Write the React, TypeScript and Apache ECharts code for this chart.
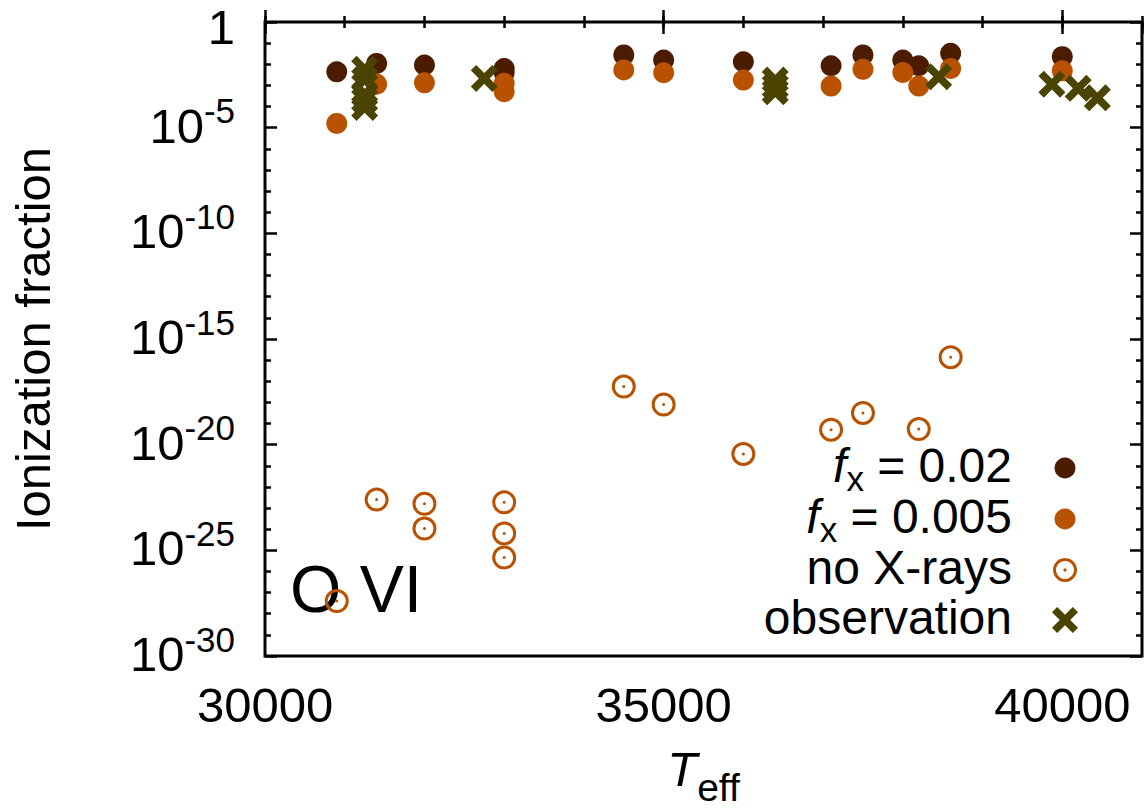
import React, { useEffect, useRef } from 'react';
import * as echarts from 'echarts';

const FONT = '"Liberation Sans", Arial, Helvetica, sans-serif';
const DARK = '#4b1c00';
const ORANGE = '#b85200';
const OLIVE = '#4a4400';

// Teff (K) and log10(ionization fraction)
const fx002Teff = [30900, 31400, 32000, 33000, 33000, 34500, 35000, 36000, 37100, 37500, 38000, 38200, 38600, 40000];
const fx002LogFrac = [-2.36, -1.96, -2.04, -2.2, -2.4, -1.56, -1.8, -1.88, -2.07, -1.56, -1.8, -2.07, -1.48, -1.64];

const fx0005Teff = [30900, 31400, 32000, 33000, 33000, 34500, 35000, 36000, 37100, 37500, 38000, 38200, 38600, 40000];
const fx0005LogFrac = [-4.8, -2.94, -2.88, -2.9, -3.3, -2.27, -2.4, -2.75, -3.03, -2.24, -2.39, -3.03, -2.2, -2.31];

const noXTeff = [30900, 31400, 32000, 32000, 33000, 33000, 33000, 34500, 35000, 36000, 37100, 37500, 38200, 38600];
const noXLogFrac = [-27.4, -22.6, -22.8, -23.97, -22.73, -24.2, -25.34, -17.25, -18.1, -20.44, -19.29, -18.5, -19.26, -15.86];

const obsTeff = [31250, 31250, 31250, 31250, 31250, 32750, 36400, 36400, 36400, 38450, 39870, 40200, 40440];
const obsLogFrac = [-2.24, -2.72, -3.41, -3.7, -4.04, -2.67, -2.75, -3.05, -3.3, -2.59, -2.94, -3.14, -3.59];

const xMin = 30000;
const xMax = 41000;
const xMajor = 5000;
const xMinor = 1000;
const yMinExp = -30;
const yMaxExp = 0;
const yMajor = 5;

const legendLabels = ['{i|f}{sub|x}{n| = 0.02}', '{i|f}{sub|x}{n| = 0.005}', '{n|no X-rays}', '{n|observation}'];

const RING =
  'path://M12,0A12,12 0 0 1 12,24A12,12 0 0 1 12,0Z M12,3A9,9 0 0 0 12,21A9,9 0 0 0 12,3Z M12,10.5A1.5,1.5 0 0 1 12,13.5A1.5,1.5 0 0 1 12,10.5Z';
const CROSS_PTS = [
  [0, 2], [2, 0], [5, 3], [8, 0], [10, 2], [7, 5], [10, 8], [8, 10], [5, 7], [2, 10], [0, 8], [3, 5],
];
const CROSS = 'path://M' + CROSS_PTS.map((p) => p.join(',')).join('L') + 'Z';

const zip = (xs: number[], ys: number[]) => xs.map((x, i) => [x, ys[i]]);

const legendRich = {
  n: { fontSize: 48, lineHeight: 48, fontFamily: FONT, verticalAlign: 'top', fill: '#000', color: '#000' },
  i: { fontSize: 48, lineHeight: 48, fontStyle: 'italic', fontFamily: FONT, verticalAlign: 'top', fill: '#000', color: '#000' },
  sub: { fontSize: 35, lineHeight: 30, padding: [20, 0, 0, 0], fontFamily: FONT, verticalAlign: 'top', fill: '#000', color: '#000' },
};

export default function App() {
  const ref = useRef<HTMLDivElement>(null);
  useEffect(() => {
    document.body.style.margin = '0';
    const chart = echarts.init(ref.current!, undefined, { renderer: 'svg' });

    const baseX = {
      type: 'value',
      min: xMin,
      max: xMax,
      splitLine: { show: false },
      axisLine: { show: false },
    };
    const baseY = {
      type: 'value',
      min: yMinExp,
      max: yMaxExp,
      interval: yMajor,
      splitLine: { show: false },
      axisLine: { show: false },
      axisTick: { inside: true, length: 12, lineStyle: { color: '#000', width: 2.5 } },
      minorTick: { show: true, splitNumber: 5, length: 6, lineStyle: { color: '#000', width: 2.5 } },
    };

    const rowY = [468, 519, 570, 620];
    const mx = 1065;
    const legendGraphics: any[] = [];
    legendLabels.forEach((lab, k) => {
      legendGraphics.push({
        type: 'text',
        x: 1012,
        y: rowY[k] - 27,
        silent: true,
        style: {
          text: lab,
          align: 'right',
          verticalAlign: 'top',
          rich: legendRich,
          fill: '#000',
        },
      });
    });
    legendGraphics.push({ type: 'circle', shape: { cx: mx, cy: rowY[0], r: 10.5 }, style: { fill: DARK } });
    legendGraphics.push({ type: 'circle', shape: { cx: mx, cy: rowY[1], r: 10.5 }, style: { fill: ORANGE } });
    legendGraphics.push({ type: 'ring', shape: { cx: mx, cy: rowY[2], r: 12, r0: 9 }, style: { fill: ORANGE } });
    legendGraphics.push({ type: 'circle', shape: { cx: mx, cy: rowY[2], r: 1.6 }, style: { fill: ORANGE } });
    legendGraphics.push({
      type: 'polygon',
      shape: { points: CROSS_PTS.map(([a, b]) => [mx - 13 + a * 2.6, rowY[3] - 13 + b * 2.6]) },
      style: { fill: OLIVE },
    });

    chart.setOption({
      animation: false,
      backgroundColor: '#fff',
      textStyle: { fontFamily: FONT },
      grid: {
        left: 265,
        right: 3,
        top: 22,
        bottom: 155,
        show: true,
        borderColor: '#000',
        borderWidth: 3,
        backgroundColor: 'transparent',
        outerBoundsMode: 'none',
        containLabel: false,
      },
      xAxis: [
        {
          ...baseX,
          position: 'bottom',
          interval: xMajor,
          axisTick: { inside: true, length: 12, lineStyle: { color: '#000', width: 2.5 } },
          axisLabel: {
            show: true,
            margin: 24,
            fontSize: 49,
            color: '#000',
            fontFamily: FONT,
            showMaxLabel: false,
            formatter: (v: number) => String(v),
          },
          name: '{i|T}{sub|eff}',
          nameLocation: 'middle',
          nameGap: 88,
          nameTextStyle: {
            rich: {
              i: { fontSize: 49, lineHeight: 49, fontStyle: 'italic', fontFamily: FONT, color: '#000', verticalAlign: 'top' },
              sub: { fontSize: 39, lineHeight: 34, padding: [24, 0, 0, 0], fontFamily: FONT, color: '#000', verticalAlign: 'top' },
            },
          },
        },
        {
          ...baseX,
          position: 'bottom',
          interval: xMinor,
          axisTick: { inside: true, length: 6, lineStyle: { color: '#000', width: 2.5 } },
          axisLabel: { show: false },
        },
        {
          ...baseX,
          position: 'top',
          interval: xMajor,
          axisTick: { inside: true, length: 12, lineStyle: { color: '#000', width: 2.5 } },
          axisLabel: { show: false },
        },
        {
          ...baseX,
          position: 'top',
          interval: xMinor,
          axisTick: { inside: true, length: 6, lineStyle: { color: '#000', width: 2.5 } },
          axisLabel: { show: false },
        },
      ],
      yAxis: [
        {
          ...baseY,
          position: 'left',
          axisLabel: {
            show: true,
            margin: 30,
            color: '#000',
            formatter: (v: number) => (v === 0 ? '{one|1}' : `{b|10}{s|${v}}`),
            rich: {
              one: { fontSize: 49, lineHeight: 49, padding: [5, 0, 0, 0], fontFamily: FONT, color: '#000', verticalAlign: 'top' },
              b: { fontSize: 49, padding: [8, 0, 12, 0], fontFamily: FONT, color: '#000', verticalAlign: 'top' },
              s: { fontSize: 35, fontFamily: FONT, color: '#000', verticalAlign: 'top' },
            },
          },
          name: 'Ionization fraction',
          nameLocation: 'middle',
          nameGap: 208,
          nameTextStyle: { fontSize: 49, fontFamily: FONT, color: '#000' },
        },
        {
          ...baseY,
          position: 'right',
          axisLabel: { show: false },
        },
      ],
      series: [
        {
          type: 'scatter',
          name: 'fx = 0.02',
          data: zip(fx002Teff, fx002LogFrac),
          symbol: 'circle',
          symbolSize: 21,
          itemStyle: { color: DARK, opacity: 1 },
          silent: true,
          z: 2,
        },
        {
          type: 'scatter',
          name: 'fx = 0.005',
          data: zip(fx0005Teff, fx0005LogFrac),
          symbol: 'circle',
          symbolSize: 21,
          itemStyle: { color: ORANGE, opacity: 1 },
          silent: true,
          z: 3,
        },
        {
          type: 'scatter',
          name: 'no X-rays',
          data: zip(noXTeff, noXLogFrac),
          symbol: RING,
          symbolSize: 24,
          itemStyle: { color: ORANGE, opacity: 1 },
          silent: true,
          z: 4,
        },
        {
          type: 'scatter',
          name: 'observation',
          data: zip(obsTeff, obsLogFrac),
          symbol: CROSS,
          symbolSize: 27,
          itemStyle: { color: OLIVE, opacity: 1 },
          silent: true,
          z: 5,
        },
      ],
      graphic: [
        {
          type: 'text',
          x: 290,
          y: 589,
          silent: true,
          z: 1,
          style: { text: 'O VI', fontSize: 66, fontFamily: FONT, fill: '#000', verticalAlign: 'middle' },
        },
        ...legendGraphics,
      ],
    });
    return () => chart.dispose();
  }, []);
  return <div ref={ref} style={{ width: 1145, height: 811 }} />;
}
